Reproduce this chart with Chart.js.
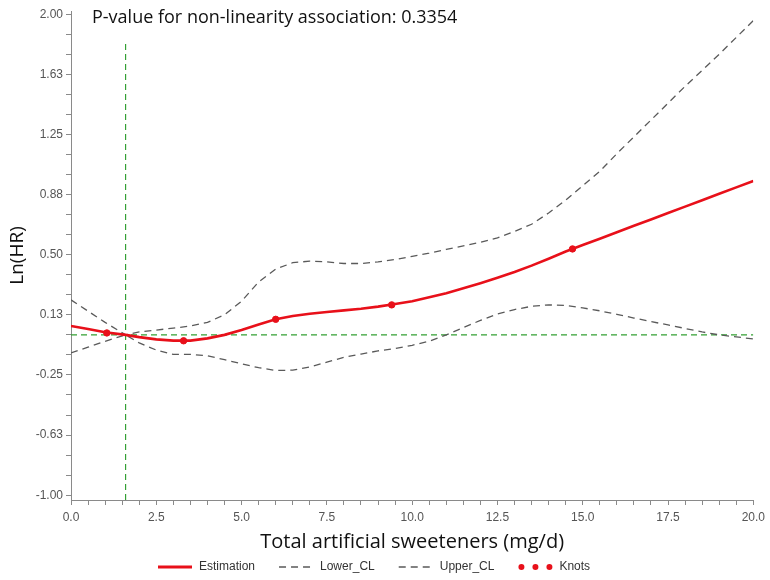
<!DOCTYPE html>
<html>
<head>
<meta charset="utf-8">
<script src="https://cdn.jsdelivr.net/npm/chart.js@4.4.0/dist/chart.umd.min.js"></script>
<style>
  html, body { margin: 0; padding: 0; background: #fff; }
  #wrap { width: 770px; height: 580px; }
</style>
</head>
<body>
<div id="wrap"><canvas id="grafic" width="770" height="580"></canvas></div>
<script>
// data
const doseX = [0, 0.5, 1, 1.6, 2, 2.5, 3, 3.5, 4, 4.5, 5, 5.5, 6, 6.5, 7, 7.5, 8, 8.5, 9, 9.5, 10,
  10.5, 11, 11.5, 12, 12.5, 13, 13.5, 14, 14.5, 15, 15.5, 16, 16.5, 17, 17.5, 18, 18.5, 19, 19.5, 20];
const estimation = [0.055, 0.036, 0.016, 0, -0.014, -0.028, -0.036, -0.036, -0.022, 0.0, 0.03, 0.065, 0.097,
  0.118, 0.132, 0.143, 0.153, 0.163, 0.176, 0.192, 0.21, 0.235, 0.26, 0.29, 0.322, 0.356, 0.392, 0.432,
  0.475, 0.52, 0.56, 0.6, 0.64, 0.68, 0.72, 0.76, 0.8, 0.84, 0.88, 0.92, 0.96];
const lowerCL = [-0.112, -0.077, -0.04, 0, -0.05, -0.095, -0.122, -0.122, -0.13, -0.155, -0.18, -0.205, -0.222,
  -0.22, -0.2, -0.17, -0.14, -0.12, -0.1, -0.085, -0.065, -0.04, 0.0, 0.045, 0.09, 0.13, 0.158, 0.178,
  0.187, 0.183, 0.168, 0.15, 0.128, 0.105, 0.083, 0.062, 0.04, 0.018, 0.0, -0.013, -0.025];
const upperCL = [0.218, 0.148, 0.078, 0, 0.018, 0.03, 0.042, 0.055, 0.078, 0.125, 0.21, 0.33, 0.41,
  0.45, 0.46, 0.455, 0.445, 0.445, 0.455, 0.47, 0.49, 0.51, 0.533, 0.555, 0.578, 0.605, 0.645, 0.69,
  0.76, 0.84, 0.93, 1.02, 1.13, 1.235, 1.34, 1.445, 1.55, 1.65, 1.75, 1.855, 1.96];
const knotX = [1.05, 3.3, 6.0, 9.4, 14.7];
const knotY = [0.012, -0.037, 0.097, 0.187, 0.536];
const refX = 1.6;
const refTop = 1.83;

const xMajor = [0, 2.5, 5, 7.5, 10, 12.5, 15, 17.5, 20];
const xTickLabels = ["0.0", "2.5", "5.0", "7.5", "10.0", "12.5", "15.0", "17.5", "20.0"];
const yMajor = [-1, -0.625, -0.25, 0.125, 0.5, 0.875, 1.25, 1.625, 2];
const yTickLabels = ["-1.00", "-0.63", "-0.25", "0.13", "0.50", "0.88", "1.25", "1.63", "2.00"];
const legendOrder = ["Estimation", "Lower_CL", "Upper_CL", "Knots"];
const pValueText = "P-value for non-linearity association: 0.3354";

function withMinor(major, parts) {
  let out = [];
  for (let i = 0; i < major.length - 1; i++) {
    for (let k = 0; k < parts; k++) out.push(major[i] + (major[i + 1] - major[i]) * k / parts);
  }
  out.push(major[major.length - 1]);
  return out;
}
function labelFor(value, major, labels) {
  const i = major.findIndex((m) => Math.abs(m - value) < 1e-6);
  return i >= 0 ? labels[i] : "";
}
const pts = (xs, ys) => xs.map((x, i) => ({ x: x, y: ys[i] }));

const tickFont = { family: "'Liberation Sans', Arial, sans-serif", size: 12 };
const axisGray = "#8a8a8a";
const refGreen = "#33a033";

const sasLegend = {
  id: "sasLegend",
  afterDraw(chart) {
    const ctx = chart.ctx;
    const y = 567;
    let x = 158;
    ctx.save();
    ctx.font = "12px 'Liberation Sans', Arial, sans-serif";
    ctx.textBaseline = "middle";
    legendOrder.forEach((name) => {
      const ds = chart.data.datasets.find((d) => d.label === name);
      if (ds.legendKind === "dots") {
        ctx.fillStyle = ds.backgroundColor;
        [3, 17, 31].forEach((dx) => {
          ctx.beginPath();
          ctx.arc(x + dx, y, 3, 0, Math.PI * 2);
          ctx.fill();
        });
      } else {
        ctx.strokeStyle = ds.borderColor;
        ctx.lineWidth = ds.legendKind === "line" ? 3 : 1.3;
        ctx.setLineDash(ds.borderDash || []);
        ctx.beginPath();
        ctx.moveTo(x, y);
        ctx.lineTo(x + 34, y);
        ctx.stroke();
        ctx.setLineDash([]);
      }
      ctx.fillStyle = "#333";
      ctx.fillText(ds.label, x + 41, y);
      x += 41 + ctx.measureText(ds.label).width + 24;
    });
    ctx.font = "18px 'Open Sans', sans-serif";
    ctx.fillStyle = "#111";
    ctx.textBaseline = "alphabetic";
    ctx.fillText(pValueText, 92, 23);
    ctx.restore();
  },
};

const ctx = document.getElementById("grafic").getContext("2d");
const grafic = new Chart(ctx, {
  type: "scatter",
  data: {
    datasets: [
      {
        label: "Knots",
        legendKind: "dots",
        data: pts(knotX, knotY),
        backgroundColor: "#e8101a",
        borderColor: "#e8101a",
        pointRadius: 3.2,
        showLine: false,
        order: 0,
      },
      {
        label: "Estimation",
        legendKind: "line",
        data: pts(doseX, estimation),
        borderColor: "#e8101a",
        borderWidth: 2.6,
        pointRadius: 0,
        showLine: true,
        order: 1,
      },
      {
        label: "Lower_CL",
        legendKind: "dash",
        data: pts(doseX, lowerCL),
        borderColor: "#5a5a5a",
        borderWidth: 1.3,
        borderDash: [7, 5],
        pointRadius: 0,
        showLine: true,
        order: 2,
      },
      {
        label: "Upper_CL",
        legendKind: "dash",
        data: pts(doseX, upperCL),
        borderColor: "#5a5a5a",
        borderWidth: 1.3,
        borderDash: [7, 5],
        pointRadius: 0,
        showLine: true,
        order: 2,
      },
      {
        label: "ref-h",
        data: [{ x: 0, y: 0 }, { x: 20, y: 0 }],
        borderColor: refGreen,
        backgroundColor: refGreen,
        borderWidth: 1.2,
        borderDash: [6, 4],
        pointRadius: 0,
        showLine: true,
        order: 3,
      },
      {
        label: "ref-v",
        data: [{ x: refX, y: -1.03 }, { x: refX, y: refTop }],
        borderColor: refGreen,
        backgroundColor: refGreen,
        borderWidth: 1.2,
        borderDash: [6, 4],
        pointRadius: 0,
        showLine: true,
        order: 3,
      },
    ],
  },
  options: {
    responsive: false,
    animation: false,
    layout: { padding: { top: 11, right: 13, left: 0, bottom: 24 } },
    plugins: { legend: { display: false }, tooltip: { enabled: false } },
    scales: {
      x: {
        type: "linear",
        min: 0,
        max: 20,
        afterBuildTicks: (scale) => { scale.ticks = withMinor(xMajor, 5).map((v) => ({ value: v })); },
        afterFit: (scale) => { scale.height = 56; },
        ticks: {
          autoSkip: false,
          maxRotation: 0,
          padding: 5,
          color: "#555",
          font: tickFont,
          callback: (v) => labelFor(v, xMajor, xTickLabels),
        },
        grid: { drawOnChartArea: false, tickLength: 5, color: axisGray },
        border: { color: axisGray },
        title: {
          display: true,
          text: "Total artificial sweeteners (mg/d)",
          color: "#111",
          font: { family: "'Open Sans', sans-serif", size: 20 },
          padding: { top: 0, bottom: 2 },
        },
      },
      y: {
        type: "linear",
        min: -1.03,
        max: 2.02,
        afterBuildTicks: (scale) => { scale.ticks = withMinor(yMajor, 3).map((v) => ({ value: v })); },
        afterFit: (scale) => { scale.width = 71; },
        ticks: {
          autoSkip: false,
          padding: 3,
          color: "#555",
          font: tickFont,
          callback: (v) => labelFor(v, yMajor, yTickLabels),
        },
        grid: { drawOnChartArea: false, tickLength: 5, color: axisGray },
        border: { color: axisGray },
        title: {
          display: true,
          text: "Ln(HR)",
          color: "#111",
          font: { family: "'Open Sans', sans-serif", size: 19 },
          padding: { top: 6, bottom: 0 },
        },
      },
    },
  },
  plugins: [sasLegend],
});
</script>
</body>
</html>
